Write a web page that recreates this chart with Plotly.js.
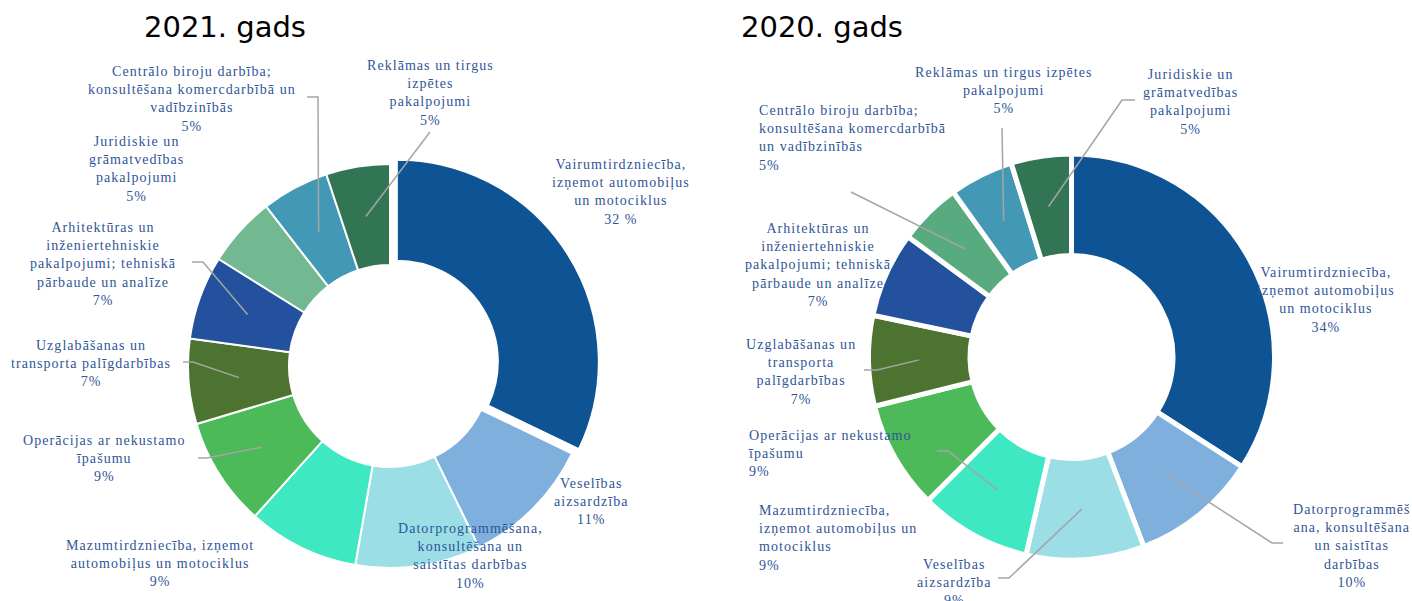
<!DOCTYPE html>
<html><head><meta charset="utf-8">
<script src="https://cdn.plot.ly/plotly-3.0.1.min.js"></script>
<style>
html,body{margin:0;padding:0;background:#fff;}
text.annotation-text[style*="Liberation Serif"]{letter-spacing:1.05px;}
</style>
</head><body><div id="chart" style="width:1412px;height:601px;"></div>
<script>
// ---------- DATA ----------
const titles = ['2021. gads', '2020. gads'];

const categories2021 = [
  'Vairumtirdzniecība, izņemot automobiļus un motociklus',
  'Veselības aizsardzība',
  'Datorprogrammēšana, konsultēšana un saistītas darbības',
  'Mazumtirdzniecība, izņemot automobiļus un motociklus',
  'Operācijas ar nekustamo īpašumu',
  'Uzglabāšanas un transporta palīgdarbības',
  'Arhitektūras un inženiertehniskie pakalpojumi; tehniskā pārbaude un analīze',
  'Juridiskie un grāmatvedības pakalpojumi',
  'Centrālo biroju darbība; konsultēšana komercdarbībā un vadībzinībās',
  'Reklāmas un tirgus izpētes pakalpojumi'
];
const values2021 = [32.1, 10.6, 10.0, 8.9, 8.7, 6.8, 6.7, 5.6, 5.4, 5.1];
const pctText2021 = ['32 %', '11%', '10%', '9%', '9%', '7%', '7%', '5%', '5%', '5%'];
const wrapped2021 = [
  'Vairumtirdzniecība,<br>izņemot automobiļus<br>un motociklus',
  'Veselības<br>aizsardzība',
  'Datorprogrammēšana,<br>konsultēšana un<br>saistītas darbības',
  'Mazumtirdzniecība, izņemot<br>automobiļus un motociklus',
  'Operācijas ar nekustamo<br>īpašumu',
  'Uzglabāšanas un<br>transporta palīgdarbības',
  'Arhitektūras un<br>inženiertehniskie<br>pakalpojumi; tehniskā<br>pārbaude un analīze',
  'Juridiskie un<br>grāmatvedības<br>pakalpojumi',
  'Centrālo biroju darbība;<br>konsultēšana komercdarbībā un<br>vadībzinībās',
  'Reklāmas un tirgus<br>izpētes<br>pakalpojumi'
];

const categories2020 = [
  'Vairumtirdzniecība, izņemot automobiļus un motociklus',
  'Datorprogrammēšana, konsultēšana un saistītas darbības',
  'Veselības aizsardzība',
  'Operācijas ar nekustamo īpašumu',
  'Mazumtirdzniecība, izņemot automobiļus un motociklus',
  'Uzglabāšanas un transporta palīgdarbības',
  'Arhitektūras un inženiertehniskie pakalpojumi; tehniskā pārbaude un analīze',
  'Centrālo biroju darbība; konsultēšana komercdarbībā un vadībzinībās',
  'Reklāmas un tirgus izpētes pakalpojumi',
  'Juridiskie un grāmatvedības pakalpojumi'
];
const values2020 = [34.1, 10.1, 9.4, 8.9, 8.6, 7.2, 6.8, 5.0, 5.1, 4.8];
const pctText2020 = ['34%', '10%', '9%', '9%', '9%', '7%', '7%', '5%', '5%', '5%'];
const wrapped2020 = [
  'Vairumtirdzniecība,<br>izņemot automobiļus<br>un motociklus',
  'Datorprogrammēš<br>ana, konsultēšana<br>un saistītas<br>darbības',
  'Veselības<br>aizsardzība',
  'Operācijas ar nekustamo<br>īpašumu',
  'Mazumtirdzniecība,<br>izņemot automobiļus un<br>motociklus',
  'Uzglabāšanas un<br>transporta<br>palīgdarbības',
  'Arhitektūras un<br>inženiertehniskie<br>pakalpojumi; tehniskā<br>pārbaude un analīze',
  'Centrālo biroju darbība;<br>konsultēšana komercdarbībā<br>un vadībzinībās',
  'Reklāmas un tirgus izpētes<br>pakalpojumi',
  'Juridiskie un<br>grāmatvedības<br>pakalpojumi'
];

const colors2021 = ['#0E5394','#7FB0DD','#9BDEE6','#3EE8C3','#4DBA5A','#4D7330','#24519D','#72B891','#4399B5','#317555'];
const colors2020 = ['#0E5394','#7FB0DD','#9BDEE6','#3EE8C3','#4DBA5A','#4D7330','#24519D','#58AB7E','#4399B5','#317555'];

// ---------- LAYOUT CONFIG (pixels) ----------
const W = 1412, H = 601, HOLE = 0.5;
const charts = [
  {
    title: titles[0], titleX: 225, titleY: 27,
    cats: categories2021, vals: values2021, pct: pctText2021, wrap: wrapped2021, colors: colors2021,
    cx: 390, cy: 366, R: 202, pull: [0.04,0,0,0,0,0,0,0,0,0], lineW: 2,
    labelPos: [
      {x:621,y:192,a:'center'},{x:591,y:501,a:'center'},{x:471,y:555.5,a:'center'},
      {x:160,y:563.5,a:'center'},{x:105,y:458.5,a:'center'},{x:91,y:363.5,a:'center'},
      {x:103,y:264,a:'center'},{x:136,y:169,a:'center'},{x:192,y:99,a:'center'},{x:430,y:93,a:'center'}
    ],
    leaders: {4:[[198,458],[207,458]], 5:[[183,362],[193,362]], 6:[[192,262],[203,262]], 8:[[307,97],[318,97]], 9:[[430,132]]}
  },
  {
    title: titles[1], titleX: 821.5, titleY: 27,
    cats: categories2020, vals: values2020, pct: pctText2020, wrap: wrapped2020, colors: colors2020,
    cx: 1071.5, cy: 357, R: 203, pull: [0,0,0,0,0,0,0,0,0,0], lineW: 5,
    labelPos: [
      {x:1326,y:300,a:'center'},{x:1352,y:546,a:'center'},{x:954,y:582,a:'center'},
      {x:746,y:453,a:'left'},{x:757,y:537.5,a:'left'},{x:801,y:371.5,a:'center'},
      {x:818,y:265,a:'center'},{x:757,y:138,a:'left'},{x:1004,y:91,a:'center'},{x:1190,y:102.5,a:'center'}
    ],
    leaders: {1:[[1283,543],[1272,543]], 2:[[998,578],[1009,578]], 3:[[937,451],[948,451]], 5:[[864,370],[877,370]], 7:[[851,192]], 8:[[1002,128]], 9:[[1135,100],[1122,100]]}
  }
];

const px = x => x / W;
const py = y => 1 - y / H;

const traces = [], annotations = [], shapes = [];
charts.forEach(c => {
  const maxPull = Math.max(...c.pull);
  const half = c.R * (1 + maxPull);
  traces.push({
    type: 'pie', labels: c.cats, values: c.vals, sort: false, direction: 'clockwise', rotation: 0,
    hole: HOLE, pull: c.pull, textinfo: 'none', hoverinfo: 'skip', showlegend: false,
    marker: {colors: c.colors, line: {color: '#FFFFFF', width: c.lineW}},
    domain: {x: [px(c.cx - half), px(c.cx + half)], y: [(H - c.cy - half) / H, (H - c.cy + half) / H]}
  });
  annotations.push({
    text: c.title, showarrow: false, xref: 'paper', yref: 'paper',
    x: px(c.titleX), y: py(c.titleY), xanchor: 'center', yanchor: 'middle',
    font: {family: 'DejaVu Sans', size: 29, color: '#000000'}
  });
  const total = c.vals.reduce((a, b) => a + b, 0);
  let cum = 0;
  c.vals.forEach((v, i) => {
    const f = (cum + v / 2) / total; cum += v;
    const phi = 2 * Math.PI * f;
    const ra = c.R * (1 + HOLE) / 2 + c.pull[i] * c.R;
    const ax = c.cx + ra * Math.sin(phi), ay = c.cy - ra * Math.cos(phi);
    const lp = c.labelPos[i];
    annotations.push({
      text: c.wrap[i] + '<br>' + c.pct[i], showarrow: false, xref: 'paper', yref: 'paper',
      x: px(lp.x), y: py(lp.y), xanchor: lp.a, yanchor: 'middle', align: lp.a,
      font: {family: 'Liberation Serif', size: 14, color: '#2F5597'}
    });
    if (c.leaders[i]) {
      const pts = c.leaders[i].concat([[ax, ay]]);
      const path = pts.map((p, k) => (k ? 'L' : 'M') + px(p[0]).toFixed(5) + ',' + py(p[1]).toFixed(5)).join(' ');
      shapes.push({type: 'path', xref: 'paper', yref: 'paper', path: path, line: {color: '#A5A5A5', width: 1.5}});
    }
  });
});

Plotly.newPlot('chart', traces, {
  width: W, height: H, margin: {l: 0, r: 0, t: 0, b: 0},
  paper_bgcolor: '#FFFFFF', plot_bgcolor: '#FFFFFF', showlegend: false,
  annotations: annotations, shapes: shapes
}, {staticPlot: true, displayModeBar: false});
</script>
</body></html>
